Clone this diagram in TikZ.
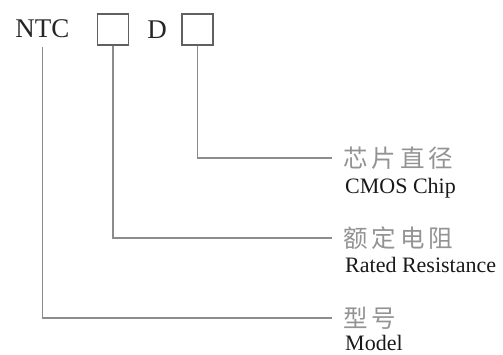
\documentclass[tikz,border=0pt]{standalone}
\usepackage{fontspec}
\setmainfont{Liberation Serif}
\newfontfamily\cjk[LetterSpace=16]{Noto Sans CJK SC}
\begin{document}
\begin{tikzpicture}[x=1pt,y=-1pt,
  conn/.style={draw=gray!90, line width=1.4pt},
  codebox/.style={draw=gray!75!black, line width=1.3pt, minimum size=31pt, inner sep=0pt},
  code/.style={font=\fontsize{27}{27}\selectfont, text=black!85, inner sep=0pt, anchor=base},
  zh/.style={font=\cjk\fontsize{24.5}{24.5}\selectfont, text=gray!85, inner sep=0pt, anchor=west},
  en/.style={font=\fontsize{22}{22}\selectfont, text=black!90, inner sep=0pt, anchor=base west}]
\useasboundingbox (0,0) rectangle (503,354);
\node[code] (ntc) at (42.5,37) {NTC};
\node[codebox] (b1) at (113,29.5) {};
\node[code] (d) at (157,38) {D};
\node[codebox] (b2) at (197.5,29.5) {};
\node[zh] (z1) at (343,158) {芯片直径};
\node[en] (e1) at (345,193) {CMOS Chip};
\node[zh] (z2) at (343,238) {额定电阻};
\node[en] (e2) at (345,272) {Rated Resistance};
\node[zh] (z3) at (343,318) {型号};
\node[en] (e3) at (345,350) {Model};
\draw[conn, shorten >=11pt] (b2.south) |- (z1.west);
\draw[conn, shorten >=11pt] (b1.south) |- (z2.west);
\draw[conn, shorten <=10pt, shorten >=11pt] (ntc.south) |- (z3.west);
\end{tikzpicture}
\end{document}
